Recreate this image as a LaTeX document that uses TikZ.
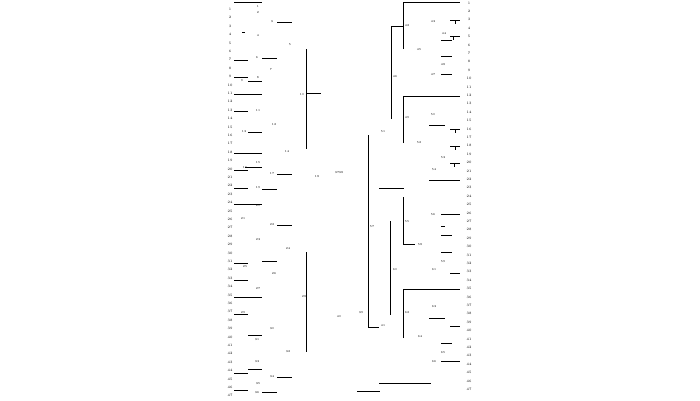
\documentclass[tikz,border=0pt]{standalone}
\begin{document}
\begin{tikzpicture}
[x=1pt,y=-1pt,
 linedecorate/.style={-,line width=1pt},
 leafdecorate/.style={inner sep=0pt,font=\fontsize{3.5}{4}\selectfont},
 innerdecorate/.style={inner sep=0pt,font=\fontsize{3}{3.5}\selectfont}]
\useasboundingbox (0,0) rectangle (700,400);
%% leaves on both sides
\foreach \i in {1,...,47} {
  \node (left\i) at (230,{1+8.4*\i}) [leafdecorate] {\i};
  \node (right\i) at (469,{3+8.4*(\i-1)}) [leafdecorate] {\i};
}
%% horizontal branches
\foreach \n/\xa/\xb/\y in {a1/234/262/2, a2/277/292/22, a3/242/245/32, a4/234/248/60,
  a5/262/277/58, a6/234/248/77, a7/248/262/81, a8/234/262/94, a9/306/321/93,
  a10/234/248/111, a11/248/262/132, a12/234/262/153, a13/245/262/167,
  a14/234/248/170, a15/277/292/174, a16/234/248/188, a17/262/277/189,
  a18/234/262/204, a19/277/292/225, a20/262/277/261, a21/234/248/263,
  a22/234/248/280, a23/234/262/297, a24/234/248/314, a25/248/262/335,
  a26/248/262/369, a27/234/248/373, a28/277/292/377, a29/234/248/390,
  a30/262/277/392,
  b1/379/404/188, b2/379/431/383, b3/357/380/391, b4/450/460/20,
  b5/450/460/36, b6/441/452/40, b7/441/452/56, b8/441/452/74,
  b9/429/445/125, b10/450/460/129, b11/450/460/146, b12/450/460/163,
  b13/429/460/180, b14/441/460/214, b15/441/445/226, b16/441/452/235,
  b17/441/452/252, b18/450/460/273, b19/429/445/318, b20/450/460/326,
  b21/441/452/343, b22/441/460/361} {
  \coordinate (\n s) at (\xa,\y);
  \coordinate (\n e) at (\xb,\y);
  \draw[linedecorate] (\n s) -- (\n e);
}
%% vertical branches
\foreach \n/\x/\ya/\yb in {v1/306/49/149, v2/306/252/352, v3/390/221/315,
  v4/455/20/24, v5/453/36/40, v6/455/129/133, v7/455/146/150, v8/454/163/167} {
  \coordinate (\n s) at (\x,\ya);
  \coordinate (\n e) at (\x,\yb);
  \draw[linedecorate] (\n s) -- (\n e);
}
%% elbows
\foreach \n/\x/\ya/\yb/\xe in {c1/368/135/327/379, c2/391/119/26/403,
  c3/403/49/2/460, c4/403/143/96/460, c5/403/197/244/415, c6/403/338/289/460} {
  \coordinate (\n s) at (\x,\ya);
  \coordinate (\n m) at (\x,\yb);
  \coordinate (\n e) at (\xe,\yb);
  \draw[linedecorate] (\n s) -- (\n m) -- (\n e);
}
%% inner labels
\foreach \x/\y [count=\k] in {258/6, 258/12, 272/22, 258/35, 290/45, 257/58,
  271/70, 258/78, 242/81, 302/95, 258/110, 274/124, 244/132, 287/151,
  258/163, 245/168, 272/174, 317/177, 258/188, 258/206, 243/218, 272/224,
  258/240, 288/248, 245/267, 274/274, 258/289, 304/297, 243/313, 272/329,
  257/340, 288/352, 257/362, 272/377, 258/384, 257/393,
  337/173, 341/173, 361/313, 339/317, 383/325,
  407/25, 433/22, 444/33, 419/50, 395/77, 433/75, 443/65,
  407/118, 433/115, 383/132, 419/143, 443/158, 434/170,
  407/222, 433/215, 372/227, 420/245, 443/262, 395/270, 434/270,
  407/313, 434/307, 420/337, 443/353, 434/362} {
  \node (inner\k) at (\x,\y) [innerdecorate] {\k};
}
\end{tikzpicture}
\end{document}
